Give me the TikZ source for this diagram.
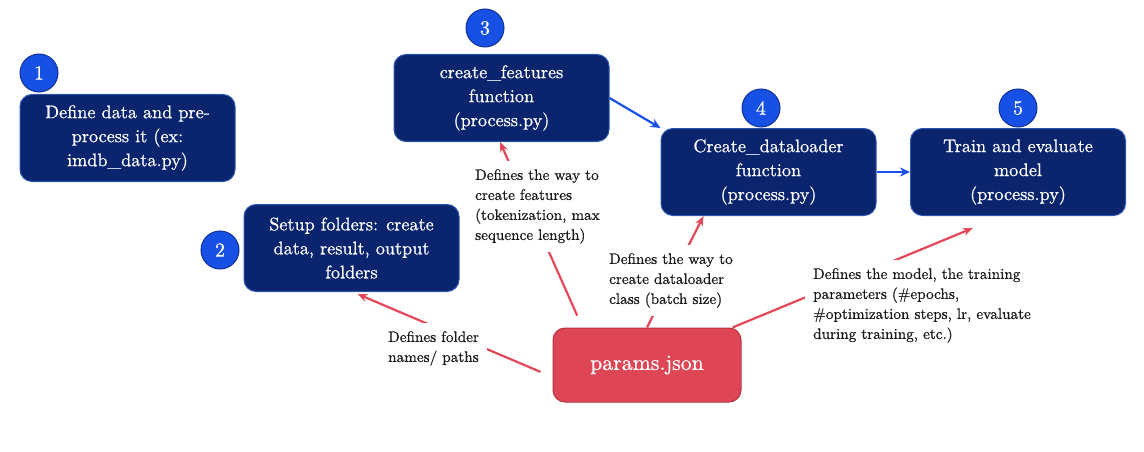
\documentclass[tikz,border=0pt]{standalone}
\usepackage{fontspec}
\newfontfamily\lmx{lmroman10-regular.otf}[FakeBold=0.7]
\usetikzlibrary{arrows.meta}
\definecolor{navy}{RGB}{10,36,110}
\definecolor{navyborder}{RGB}{45,85,175}
\definecolor{circfill}{RGB}{22,80,228}
\definecolor{circborder}{RGB}{20,50,150}
\definecolor{redfill}{RGB}{223,70,85}
\definecolor{redborder}{RGB}{185,50,60}
\definecolor{redline}{RGB}{226,72,88}
\definecolor{bluearrow}{RGB}{25,80,230}
\definecolor{labeltext}{RGB}{25,25,25}
\tikzset{
  stepbox/.style={draw=navyborder, line width=1pt, fill=navy, rounded corners=12pt,
    minimum width=215pt, minimum height=87pt, text=white, align=center,
    font=\lmx\fontsize{18.2}{24}\selectfont, inner sep=0pt},
  numcirc/.style={circle, draw=circborder, line width=1pt, fill=circfill, minimum size=38pt,
    inner sep=0pt, text=white, font=\lmx\fontsize{20}{24}\selectfont},
  parambox/.style={draw=redborder, line width=1pt, fill=redfill, rounded corners=12pt,
    minimum width=188pt, minimum height=74pt, text=white, font=\lmx\fontsize{21.8}{26}\selectfont},
  lbl/.style={fill=white, align=left, text=labeltext, anchor=north west,
    font=\lmx\fontsize{15.2}{20}\selectfont, inner xsep=8pt, inner ysep=8pt},
  redarrow/.style={draw=redline, line width=2.2pt, -{Stealth[length=10pt,width=8pt]}, shorten <=13pt},
  redconn/.style={draw=redline, line width=2.2pt, -{Stealth[length=10pt,width=8pt]}},
  bluearr/.style={draw=bluearrow, line width=2.2pt, -{Stealth[length=10pt,width=9pt]}}
}
\begin{document}
\begin{tikzpicture}[x=1pt,y=-1pt]
\useasboundingbox (0,0) rectangle (1144,452);
% step boxes
\node[stepbox] (b1) at (127.5,138) {Define data and pre-\\process it (ex:\\imdb\_data.py)};
\node[stepbox] (b2) at (351.5,248) {Setup folders: create\\data, result, output\\folders};
\node[stepbox] (b3) at (501.5,98) {create\_features\\function\\(process.py)};
\node[stepbox] (b4) at (768.5,172) {Create\_dataloader\\function\\(process.py)};
\node[stepbox] (b5) at (1018,172) {Train and evaluate\\model\\(process.py)};
\node[parambox] (params) at (647,365) {params.json};
% number circles
\node[numcirc] (c1) at (39,73) {1};
\node[numcirc] (c2) at (220,250) {2};
\node[numcirc] (c3) at (485,28) {3};
\node[numcirc] (c4) at (761,108) {4};
\node[numcirc] (c5) at (1018,108) {5};
% blue flow arrows
\draw[bluearr] (b3.east) -- (b4.north west);
\draw[bluearr] (b4.east) -- (b5.west);
% red connectors from params.json
\draw[redarrow] ([yshift=-12pt]params.west) -- ([xshift=114pt,yshift=-2pt]b2.south west);
\draw[redarrow] ([xshift=30pt]params.north west) -- ([xshift=-1.5pt]b3.south);
\draw[redconn] (params.north) -- ([xshift=43pt]b4.south west);
\draw[redconn] ([xshift=-9pt]params.north east) -- ([xshift=63pt,yshift=-12pt]b5.south west);
% labels (masking the connectors)
\node[lbl] (lF) at (380,323) {Defines folder\\names/ paths};
\node[lbl] (lC) at (467,161) {Defines the way to\\create features\\(tokenization, max\\sequence length)};
\node[lbl] (lD) at (601,245) {Defines the way to\\create dataloader\\class (batch size)};
\node[lbl] (lM) at (805,260) {Defines the model, the training\\parameters (\#epochs,\\\#optimization steps, lr, evaluate\\during training, etc.)};
\end{tikzpicture}
\end{document}
